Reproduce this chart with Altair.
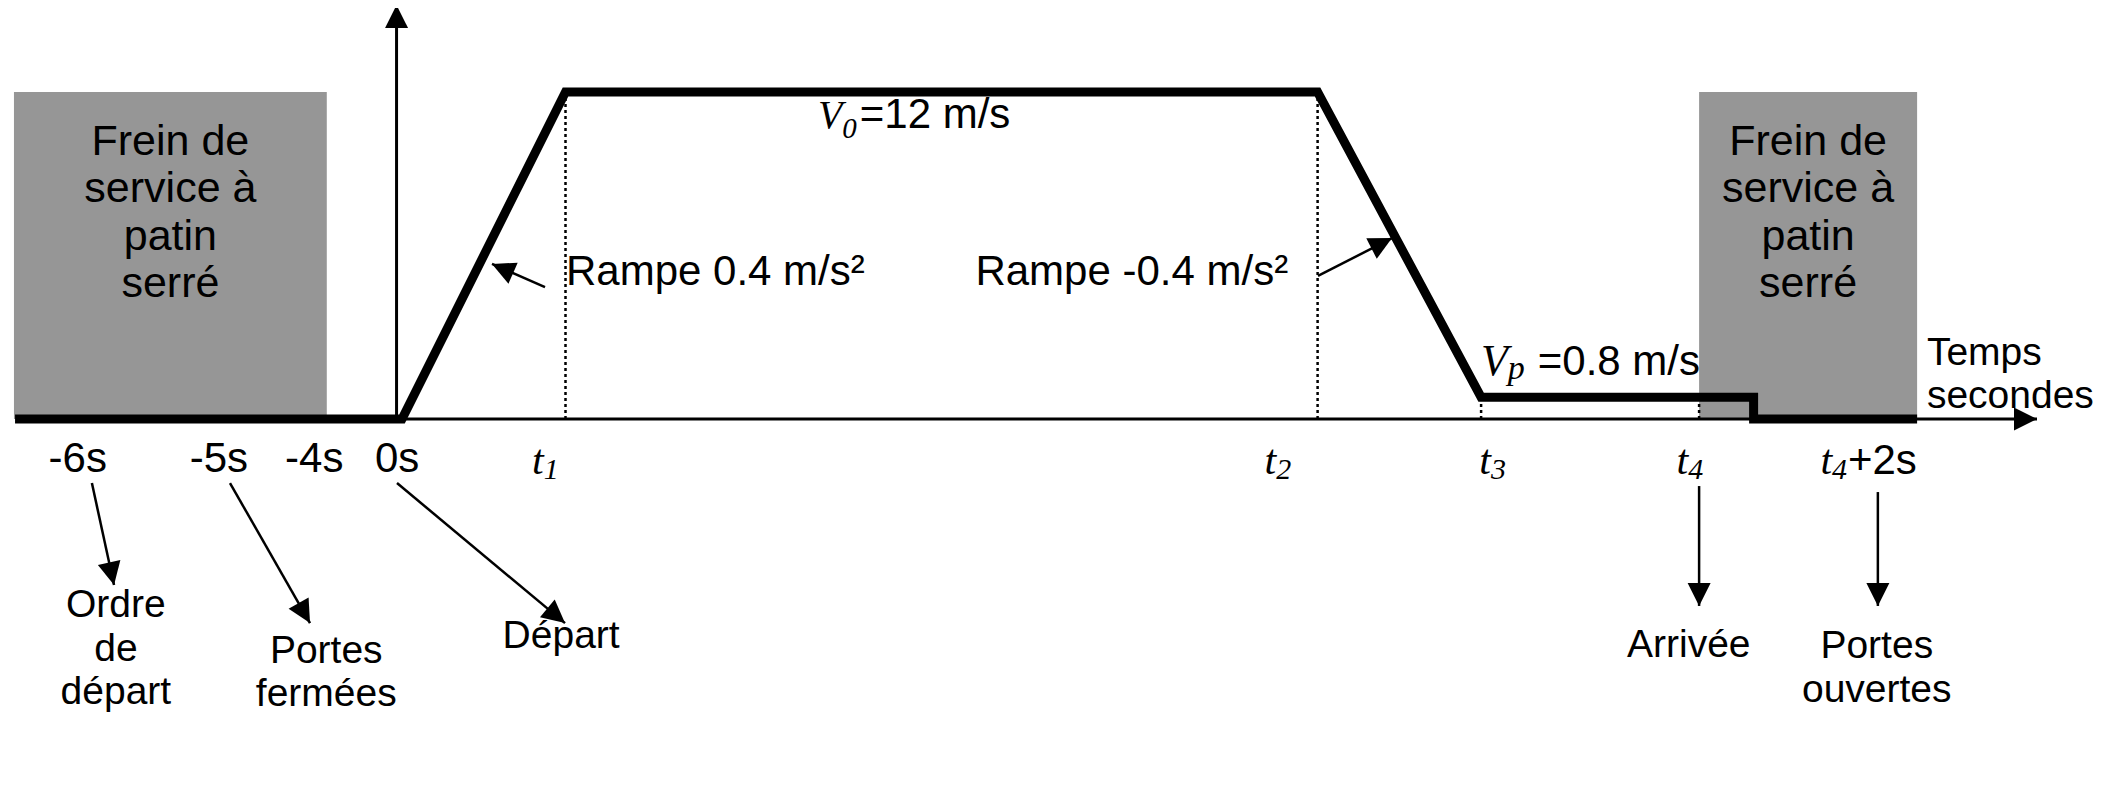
import math
import altair as alt
import pandas as pd

# ---------------- data (x: schematic time units, y: speed in m/s) ----------------
profile_t = [-71, 0, 30, 168, 198, 248, 248, 278]
profile_v = [0, 0, 12, 12, 0.8, 0.8, 0, 0]

brake_start = [-71.2, 238]
brake_end = [-13.8, 278]
brake_top = [12, 12]
brake_label = "Frein de\nservice à\npatin\nserré"
brake_label_v = 9.69

guide_t = [30, 168, 198, 238]
guide_top = [12, 12, 0.8, 0.8]

axis_origin_t = -1
axis_t_end = 300
axis_v_end = 15.19

tick_text = ["-6s", "-5s", "-4s", "0s"]
tick_t = [-59.5, -33.6, -16.1, -0.9]
tick_v = -1.95

t_sub_text = ["1", "2", "3", "4", "4"]
t_sub_t = [26.0, 160.4, 199.8, 236.0, 262.4]
t_main_v = -2.02
t_sub_v = -2.2
plus2_text = "+2s"
plus2_t = 265.3

v0_t, v0_v, v0_sub_v = 80.8, 10.68, 10.31
vp_t, vp_v, vp_sub_v = 202.9, 1.615, 1.47
v_rest_text = ["=12 m/s", "=0.8 m/s"]
v_rest_t = [84.0, 208.4]
v_rest_v = [10.68, 1.615]

ramp_text = ["Rampe 0.4 m/s²", "Rampe -0.4 m/s²"]
ramp_t = [57.5, 133.9]
ramp_v = 4.92

event_text = ["Ordre\nde\ndépart", "Portes\nfermées", "Départ", "Arrivée", "Portes\nouvertes"]
event_t = [-52.5, -13.9, 29.2, 236.1, 270.6]
event_v = [-7.27, -8.95, -8.40, -8.73, -8.77]

arrow_tail_t = [-56.9, -31.56, -0.92, 238, 270.8, 26.24, 168.07]
arrow_tail_v = [-2.35, -2.35, -2.35, -2.46, -2.68, 4.84, 5.25]
arrow_tip_t = [-52.84, -16.88, 29.91, 238, 270.8, 16.51, 181.65]
arrow_tip_v = [-6.09, -7.49, -7.49, -6.86, -6.86, 5.69, 6.64]

axis_label = "Temps\nsecondes"
axis_label_t = 279.8
axis_label_v = 1.98

# ---------------- layout ----------------
W, H = 2100, 765
X_DOMAIN = [-72.294, 313.027]
Y_DOMAIN = [-12.990, 15.083]
KX = W / (X_DOMAIN[1] - X_DOMAIN[0])
KY = H / (Y_DOMAIN[1] - Y_DOMAIN[0])
SANS = "Liberation Sans"
SERIF = "Liberation Serif"
GRAY = "#969696"

xs = alt.Scale(domain=X_DOMAIN, nice=False, zero=False)
ys = alt.Scale(domain=Y_DOMAIN, nice=False, zero=False)


def X(f):
    return alt.X(f, type="quantitative", scale=xs, axis=None)


def Y(f):
    return alt.Y(f, type="quantitative", scale=ys, axis=None)


# ---------------- tables ----------------
df_profile = pd.DataFrame({"t": profile_t, "v": profile_v, "i": range(len(profile_t))})
df_brake = pd.DataFrame({
    "t0": brake_start, "t1": brake_end, "v0": [0] * len(brake_start), "v1": brake_top,
    "tc": [(a + b) / 2 for a, b in zip(brake_start, brake_end)],
    "vt": [brake_label_v] * len(brake_start), "label": [brake_label] * len(brake_start),
})
df_guides = pd.DataFrame({"t": guide_t, "v0": [0] * len(guide_t), "v1": guide_top})
df_axes = pd.DataFrame({
    "x0": [axis_origin_t, axis_origin_t], "x1": [axis_t_end, axis_origin_t],
    "y0": [0, 0], "y1": [0, axis_v_end],
})
df_arrows = pd.DataFrame({"x0": arrow_tail_t, "y0": arrow_tail_v,
                          "x1": arrow_tip_t, "y1": arrow_tip_v})


def head_angle(x0, y0, x1, y1):
    dx = (x1 - x0) * KX
    dy = -(y1 - y0) * KY
    return math.degrees(math.atan2(dx, -dy)) % 360


heads_t = list(arrow_tip_t) + [axis_t_end, axis_origin_t]
heads_v = list(arrow_tip_v) + [0, axis_v_end]
heads_a = [head_angle(a, b, c, d) for a, b, c, d in
           zip(arrow_tail_t, arrow_tail_v, arrow_tip_t, arrow_tip_v)] + [90, 0]
df_heads = pd.DataFrame({"t": heads_t, "v": heads_v, "a": heads_a})

df_ticks = pd.DataFrame({"t": tick_t, "v": [tick_v] * len(tick_t), "label": tick_text})
df_tmain = pd.DataFrame({"t": t_sub_t, "v": [t_main_v] * len(t_sub_t), "label": ["t"] * len(t_sub_t)})
df_tsub = pd.DataFrame({"t": t_sub_t, "v": [t_sub_v] * len(t_sub_t), "label": t_sub_text})
df_plus2 = pd.DataFrame({"t": [plus2_t], "v": [t_main_v], "label": [plus2_text]})
df_v0 = pd.DataFrame({"t": [v0_t], "v": [v0_v], "label": ["V"]})
df_v0s = pd.DataFrame({"t": [v0_t], "v": [v0_sub_v], "label": ["0"]})
df_vp = pd.DataFrame({"t": [vp_t], "v": [vp_v], "label": ["V"]})
df_vps = pd.DataFrame({"t": [vp_t], "v": [vp_sub_v], "label": ["p"]})
df_vrest = pd.DataFrame({"t": v_rest_t, "v": v_rest_v, "label": v_rest_text})
df_ramp = pd.DataFrame({"t": ramp_t, "v": [ramp_v] * len(ramp_t), "label": ramp_text})
df_events = pd.DataFrame({"t": event_t, "v": event_v, "label": event_text})
df_axlab = pd.DataFrame({"t": [axis_label_t], "v": [axis_label_v], "label": [axis_label]})


def text_layer(df, **kw):
    opts = dict(baseline="alphabetic", color="black")
    opts.update(kw)
    return alt.Chart(df).mark_text(**opts).encode(x=X("t"), y=Y("v"), text="label:N")


boxes = alt.Chart(df_brake).mark_rect(color=GRAY).encode(x=X("t0"), x2="t1", y=Y("v0"), y2="v1")
box_text = alt.Chart(df_brake).mark_text(
    font=SANS, fontSize=43, lineBreak="\n", lineHeight=47.5, align="center",
    baseline="alphabetic", color="black"
).encode(x=X("tc"), y=Y("vt"), text="label:N")
guides = alt.Chart(df_guides).mark_rule(color="black", strokeWidth=2.5, strokeDash=[3, 3]).encode(
    x=X("t"), y=Y("v0"), y2="v1")
axes = alt.Chart(df_axes).mark_rule(color="black", strokeWidth=3).encode(
    x=X("x0"), x2="x1", y=Y("y0"), y2="y1")
profile = alt.Chart(df_profile).mark_line(
    color="black", strokeWidth=9, strokeJoin="miter", strokeCap="butt"
).encode(x=X("t"), y=Y("v"), order="i:Q")
arrows = alt.Chart(df_arrows).mark_rule(color="black", strokeWidth=2.5).encode(
    x=X("x0"), x2="x1", y=Y("y0"), y2="y1")
heads = alt.Chart(df_heads).mark_point(
    shape="M0,0L-1,2L1,2Z", filled=True, size=529, color="black", opacity=1
).encode(x=X("t"), y=Y("v"), angle=alt.Angle("a:Q", scale=None))

layers = [
    boxes, box_text, guides, axes, profile, arrows, heads,
    text_layer(df_ticks, font=SANS, fontSize=42, align="center"),
    text_layer(df_tmain, font=SERIF, fontStyle="italic", fontSize=42, align="right"),
    text_layer(df_tsub, font=SERIF, fontStyle="italic", fontSize=30, align="left"),
    text_layer(df_plus2, font=SANS, fontSize=42, align="left"),
    text_layer(df_v0, font=SERIF, fontStyle="italic", fontSize=40, align="right"),
    text_layer(df_v0s, font=SERIF, fontStyle="italic", fontSize=29, align="left"),
    text_layer(df_vp, font=SERIF, fontStyle="italic", fontSize=44, align="right"),
    text_layer(df_vps, font=SERIF, fontStyle="italic", fontSize=34, align="left"),
    text_layer(df_vrest, font=SANS, fontSize=42, align="left"),
    text_layer(df_ramp, font=SANS, fontSize=42, align="center"),
    text_layer(df_events, font=SANS, fontSize=39, align="center", lineBreak="\n", lineHeight=43.5),
    text_layer(df_axlab, font=SANS, fontSize=39, align="left", lineBreak="\n", lineHeight=43),
]

chart = alt.layer(*layers).properties(
    width=W, height=H, padding=0,
    autosize=alt.AutoSizeParams(type="none"),
    background="white",
).configure_view(stroke=None)

chart.save("out.html", embed_options={"renderer": "svg", "actions": False})
